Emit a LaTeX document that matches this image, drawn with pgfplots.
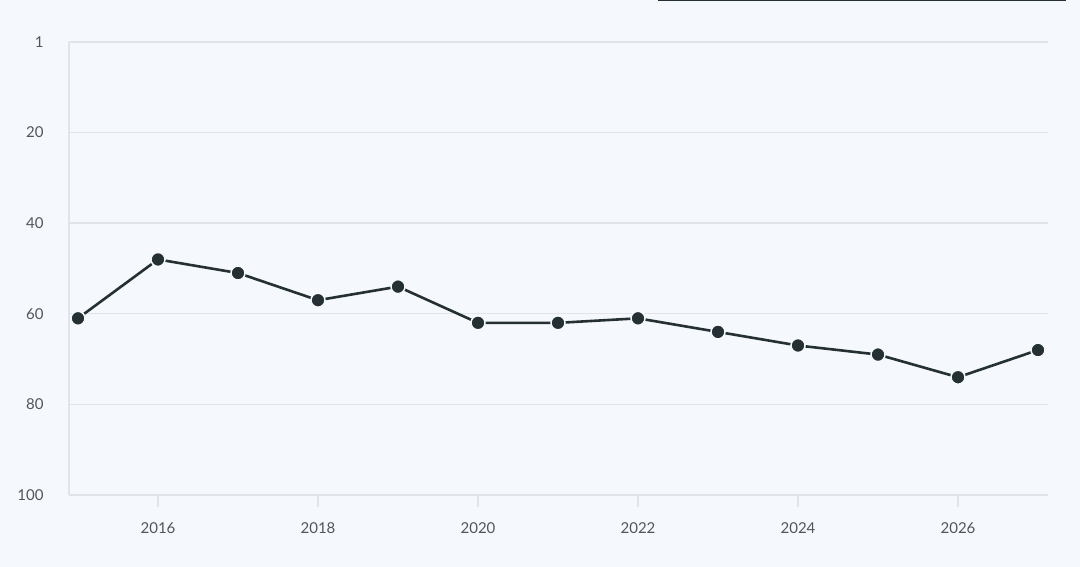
\documentclass[border=0pt]{standalone}
\usepackage{pgfplots}
\pgfplotsset{compat=1.18}
\usepackage{fontspec}
\setmainfont{Lato}
\definecolor{bgc}{HTML}{F5F8FC}
\definecolor{gridc}{HTML}{E1E5EB}
\definecolor{linec}{HTML}{253035}
\definecolor{labc}{HTML}{50565E}
\begin{document}
\begin{tikzpicture}[x=1pt,y=1pt]
\fill[bgc] (0,0) rectangle (1080,567);
\fill[linec] (658,565.8) rectangle (1066,567);
\begin{axis}[
  at={(69pt,72pt)}, anchor=south west,
  scale only axis, width=979pt, height=453pt,
  xmin=2014.8875, xmax=2027.125, ymin=0, ymax=100,
  y dir=reverse,
  axis lines*=left,
  axis line style={gridc, line width=1.8pt},
  xtick={2016,2018,...,2026},
  xticklabels={2016,2018,2020,2022,2024,2026},
  ytick={0,20,40,60,80,100},
  yticklabels={1,20,40,60,80,100},
  ymajorgrids, grid style={gridc, line width=1.4pt},
  tick align=outside,
  major tick length=12pt,
  xtick style={gridc, line width=1.4pt},
  ytick style={draw=none},
  /pgf/number format/assume math mode=true,
  ticklabel style={font=\fontsize{15}{17}\selectfont, text=labc},
  xticklabel style={yshift=-12pt},
  yticklabel style={xshift=-10pt},
  clip=false,
]
\addplot[linec, line width=2.6pt, mark=*, mark size=7pt,
  mark options={fill=linec, draw=bgc, line width=1.5pt}]
  coordinates {
  (2015,61) (2016,48) (2017,51) (2018,57) (2019,54) (2020,62) (2021,62)
  (2022,61) (2023,64) (2024,67) (2025,69) (2026,74) (2027,68)
  };
\end{axis}
\end{tikzpicture}
\end{document}
